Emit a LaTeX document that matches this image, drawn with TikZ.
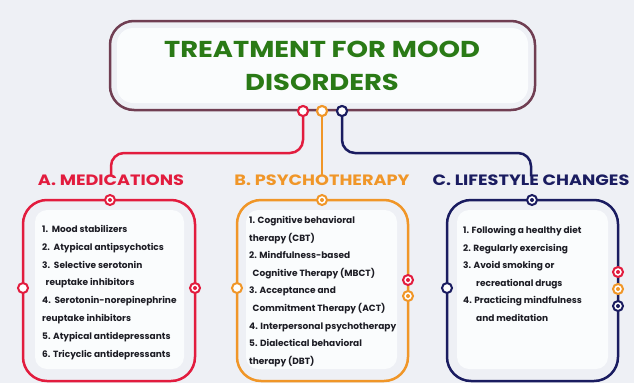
\documentclass[tikz,border=0pt]{standalone}
\usepackage{fontspec}
\setmainfont{Poppins}
\definecolor{bg}{RGB}{238,240,245}
\definecolor{panel}{RGB}{250,252,253}
\definecolor{cred}{RGB}{226,28,62}
\definecolor{corange}{RGB}{240,150,40}
\definecolor{cnavy}{RGB}{26,28,96}
\definecolor{cgreen}{RGB}{42,122,22}
\definecolor{mauve}{RGB}{112,62,82}
\definecolor{ink}{RGB}{28,28,36}
\tikzset{
  ring/.style={circle, draw=#1, line width=2pt, fill=white, minimum size=10pt, inner sep=0pt},
  dotring/.style={ring=#1, path picture={\fill[#1] (path picture bounding box.center) circle (2pt);}},
  frame/.style={line width=2.5pt, rounded corners=24},
  link/.style={line width=2.5pt, rounded corners=13},
  head/.style={font=\bfseries\fontsize{15}{18}\selectfont, inner sep=1pt, xscale=1.18, transform shape},
  item/.style={font=\bfseries\fontsize{9}{10}\selectfont, text=ink, anchor=base west, inner sep=0pt}
}
\begin{document}
\begin{tikzpicture}[x=1pt,y=-1pt]
  % 背景
  \fill[bg] (0,0) rectangle (634,383);

  % 标题框
  \draw[mauve, line width=2.5pt, rounded corners=24] (110,21) rectangle (535,110);
  \fill[panel, rounded corners=16] (117,28) rectangle (528,103);
  \node (title) at (322,66) [font=\bfseries\fontsize{23}{33}\selectfont, text=cgreen, align=center,
    xscale=1.19, transform shape] {TREATMENT FOR MOOD\\DISORDERS};

  % 三个分类标题
  \node[head, text=cred] (ha) at (111,180) {A. MEDICATIONS};
  \node[head, text=corange] (hb) at (322,180) {B. PSYCHOTHERAPY};
  \node[head, text=cnavy] (hc) at (531,180) {C. LIFESTYLE CHANGES};

  % 标题下方的三个圆点
  \node[ring=cred] (pr) at (303,111) {};
  \node[ring=corange] (po) at (322,111) {};
  \node[ring=cnavy] (pn) at (342,111) {};

  % 连线: 标题 -> 分类
  \draw[link, cred] (pr.south) -- (pr.south |- 0,153) -- (ha.north |- 0,153) -- ([yshift=-3pt]ha.north);
  \draw[link, corange] (po.south) -- ([yshift=-3pt]hb.north);
  \draw[link, cnavy] (pn.south) -- (pn.south |- 0,153) -- (hc.north |- 0,153) -- ([yshift=-3pt]hc.north);
  % 重画圆点, 盖住线头
  \node[ring=cred] at (pr) {};
  \node[ring=corange] at (po) {};
  \node[ring=cnavy] at (pn) {};

  % A 框
  \draw[frame, cred] (23,200) rectangle (195,381);
  \fill[panel, rounded corners=12] (35,210) rectangle (184,369);
  \node[dotring=cred] (ta) at (110,200) {};
  \node[ring=cred] (la) at (23,288) {};
  \node[dotring=cred] (ra) at (195,288) {};

  % B 框
  \draw[frame, corange] (237,200) rectangle (408,381);
  \fill[panel, rounded corners=12] (246,210) rectangle (397,369);
  \node[dotring=corange] (tb) at (322,200) {};
  \node[ring=corange] (lb) at (237,288) {};
  \node[dotring=cred] (rb1) at (408,280) {};
  \node[dotring=corange] (rb2) at (408,296) {};

  % C 框
  \draw[frame, cnavy] (447,200) rectangle (618,381);
  \fill[panel, rounded corners=12] (457,210) rectangle (608,369);
  \node[dotring=cnavy] (tc) at (532,200) {};
  \node[ring=cnavy] (lc) at (447,288) {};
  \node[dotring=cred] (rc1) at (618,272) {};
  \node[dotring=corange] (rc2) at (618,289) {};
  \node[dotring=cnavy] (rc3) at (618,306) {};

  % A 列表
  \foreach \dx/\t [count=\i] in {0/{1.\ \ Mood stabilizers}, 0/{2.\ \ Atypical antipsychotics},
      0/{3.\ \ Selective serotonin}, 3.5/{reuptake inhibitors}, 0/{4.\ \ Serotonin-norepinephrine},
      0/{reuptake inhibitors}, 0/{5. Atypical antidepressants}, 0/{6. Tricyclic antidepressants}} {
    \node[item] (a\i) at (42+\dx, 232.5+17.8*\i-17.8) {\t};
  }

  % B 列表
  \foreach \dx/\t [count=\i] in {0/{1. Cognitive behavioral}, 0/{therapy (CBT)},
      0/{2. Mindfulness-based}, 3.5/{Cognitive Therapy (MBCT)}, 0/{3. Acceptance and},
      3.5/{Commitment Therapy (ACT)}, 0/{4. Interpersonal psychotherapy},
      0/{5. Dialectical behavioral}, 0/{therapy (DBT)}} {
    \node[item] (b\i) at (249+\dx, 223.5+17.6*\i-17.6) {\t};
  }

  % C 列表
  \foreach \dx/\t [count=\i] in {0/{1. Following a healthy diet}, 0/{2. Regularly exercising},
      0/{3. Avoid smoking or}, 13/{recreational drugs}, 0/{4. Practicing mindfulness},
      13/{and meditation}} {
    \node[item] (c\i) at (463+\dx, 233.5+17.6*\i-17.6) {\t};
  }
\end{tikzpicture}
\end{document}
